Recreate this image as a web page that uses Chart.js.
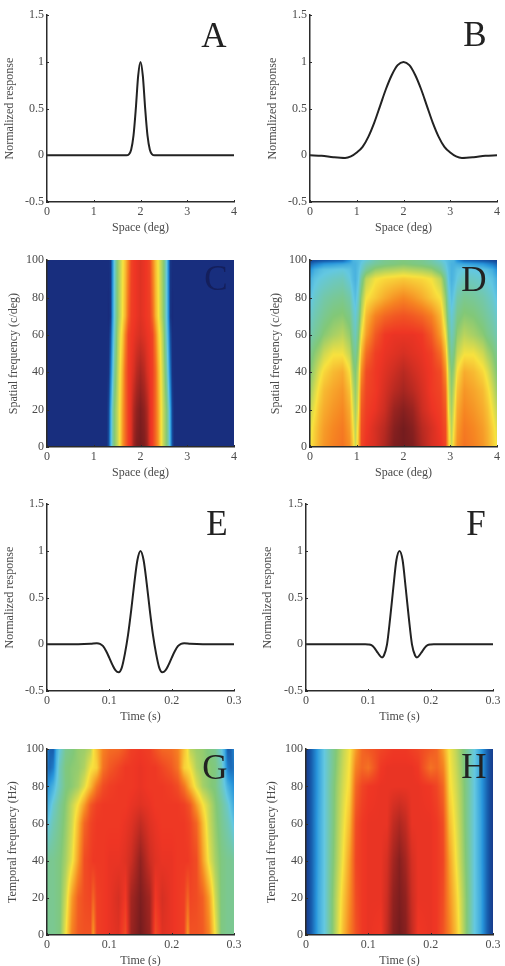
<!DOCTYPE html>
<html>
<head>
<meta charset="utf-8">
<title>Response profiles</title>
<script src="https://cdn.jsdelivr.net/npm/chart.js@4/dist/chart.umd.min.js"></script>
<style>
    html, body { margin: 0; padding: 0; background: #fff; }
    body { position: relative; width: 505px; height: 966px; overflow: hidden; }
    canvas { position: absolute; }
</style>
</head>
<body>
<script>
// Line panels
const spaceA = [0, 1.7, 1.75, 1.8, 1.85, 1.9, 1.95, 2, 2.05, 2.1, 2.15, 2.2, 2.25, 2.3, 4];
const responseA = [0, 0, 0.01, 0.06, 0.21, 0.5, 0.85, 1, 0.85, 0.5, 0.21, 0.06, 0.01, 0, 0];

const spaceB = [0, 0.25, 0.5, 0.75, 0.875, 1, 1.125, 1.25, 1.375, 1.5, 1.625, 1.75, 1.875, 2, 2.125, 2.25, 2.375, 2.5, 2.625, 2.75, 2.875, 3, 3.125, 3.25, 3.5, 3.75, 4];
const responseB = [0, -0.005, -0.02, -0.028, -0.012, 0.03, 0.09, 0.2, 0.35, 0.53, 0.71, 0.86, 0.965, 1, 0.965, 0.86, 0.71, 0.53, 0.35, 0.2, 0.09, 0.03, -0.012, -0.028, -0.02, -0.005, 0];

const timeE = [0, 0.05, 0.07, 0.08, 0.085, 0.09, 0.095, 0.1, 0.105, 0.11, 0.115, 0.12, 0.125, 0.13, 0.135, 0.14, 0.145, 0.15, 0.155, 0.16, 0.165, 0.17, 0.175, 0.18, 0.185, 0.19, 0.195, 0.2, 0.205, 0.21, 0.215, 0.22, 0.23, 0.25, 0.3];
const responseE = [0, 0, 0.005, 0.012, 0.005, -0.02, -0.075, -0.145, -0.22, -0.28, -0.3, -0.25, -0.1, 0.1, 0.36, 0.65, 0.9, 1, 0.9, 0.65, 0.36, 0.1, -0.1, -0.25, -0.3, -0.28, -0.22, -0.145, -0.075, -0.02, 0.005, 0.012, 0.005, 0, 0];

const timeF = [0, 0.095, 0.1, 0.105, 0.11, 0.115, 0.122, 0.125, 0.13, 0.135, 0.14, 0.145, 0.15, 0.155, 0.16, 0.165, 0.17, 0.175, 0.178, 0.185, 0.19, 0.195, 0.2, 0.205, 0.3];
const responseF = [0, 0, -0.002, -0.01, -0.04, -0.09, -0.14, -0.12, 0, 0.28, 0.6, 0.9, 1, 0.9, 0.6, 0.28, 0, -0.12, -0.14, -0.09, -0.04, -0.01, -0.002, 0, 0];

// Heat panels: level 0-100 per row (bottom up) and column
const columnsC = [0, 1.28, 1.32, 1.36, 1.4, 1.44, 1.5, 1.56, 1.62, 1.68, 1.74, 1.8, 1.86, 1.92, 2, 2.08, 2.14, 2.2, 2.26, 2.32, 2.38, 2.44, 2.5, 2.56, 2.6, 2.64, 2.68, 2.72, 4];
const rowsC = [0, 20, 40, 60, 70, 100];
const levelsC = [
    [2, 2, 10, 30, 43, 50, 56, 63, 73, 80, 86, 89, 96, 99, 100, 99, 96, 89, 86, 80, 73, 63, 56, 50, 43, 30, 10, 2, 2],
    [2, 2, 8, 28, 42, 50, 56, 63, 72, 80, 86, 89, 94, 97, 99, 97, 94, 89, 86, 80, 72, 63, 56, 50, 42, 28, 8, 2, 2],
    [2, 2, 3, 18, 34, 45, 54, 62, 70, 80, 86, 88, 90, 93, 95, 93, 90, 88, 86, 80, 70, 62, 54, 45, 34, 18, 3, 2, 2],
    [2, 2, 2, 10, 28, 40, 52, 60, 66, 76, 85, 87, 88, 89, 90, 89, 88, 87, 85, 76, 66, 60, 52, 40, 28, 10, 2, 2, 2],
    [2, 2, 1, 4, 24, 38, 50, 57, 63, 70, 80, 86, 87, 88, 89, 88, 87, 86, 80, 70, 63, 57, 50, 38, 24, 4, 1, 2, 2],
    [2, 2, 2, 4, 22, 38, 50, 56, 62, 68, 76, 85, 87, 88, 89, 88, 87, 85, 76, 68, 62, 56, 50, 38, 22, 4, 2, 2, 2]
];

const columnsD = [0, 0.1, 0.2, 0.3, 0.5, 0.7, 0.85, 0.92, 0.97, 1.03, 1.1, 1.2, 1.4, 1.6, 1.8, 2, 2.2, 2.4, 2.6, 2.8, 2.9, 2.97, 3.03, 3.08, 3.15, 3.3, 3.5, 3.7, 3.8, 3.9, 4];
const rowsD = [0, 10, 20, 30, 40, 50, 60, 70, 80, 90, 95, 98, 100];
const levelsD = [
    [62, 66, 70, 73, 76, 78, 74, 66, 58, 66, 85, 88, 90, 94, 99, 100, 99, 94, 90, 88, 85, 66, 58, 66, 74, 78, 76, 73, 70, 66, 62],
    [60, 65, 69, 72, 75, 77, 72, 63, 56, 64, 84, 87, 90, 93, 98, 100, 98, 93, 90, 87, 84, 64, 56, 63, 72, 77, 75, 72, 69, 65, 60],
    [57, 62, 67, 70, 73, 75, 70, 60, 54, 60, 82, 86, 88, 91, 96, 98, 96, 91, 88, 86, 82, 60, 54, 60, 70, 75, 73, 70, 67, 62, 57],
    [53, 59, 64, 68, 71, 73, 67, 57, 52, 58, 79, 85, 87, 90, 93, 95, 93, 90, 87, 85, 79, 58, 52, 57, 67, 73, 71, 68, 64, 59, 53],
    [50, 55, 60, 64, 68, 70, 63, 53, 50, 56, 74, 84, 87, 89, 91, 93, 91, 89, 87, 84, 74, 56, 50, 53, 63, 70, 68, 64, 60, 55, 50],
    [47, 51, 54, 58, 62, 62, 57, 49, 46, 52, 68, 79, 86, 88, 89, 90, 89, 88, 86, 79, 68, 52, 46, 49, 57, 62, 62, 58, 54, 51, 47],
    [43, 46, 48, 51, 54, 56, 52, 45, 42, 48, 62, 72, 82, 87, 88, 88, 88, 87, 82, 72, 62, 48, 42, 45, 52, 56, 54, 51, 48, 46, 43],
    [40, 43, 45, 47, 50, 51, 48, 42, 39, 44, 56, 68, 76, 80, 82, 83, 82, 80, 76, 68, 56, 44, 39, 42, 48, 51, 50, 47, 45, 43, 40],
    [36, 40, 42, 44, 46, 47, 44, 38, 35, 40, 52, 62, 66, 70, 73, 75, 73, 70, 66, 62, 52, 40, 35, 38, 44, 47, 46, 44, 42, 40, 36],
    [31, 36, 38, 39, 41, 42, 38, 34, 32, 36, 46, 56, 62, 64, 65, 66, 65, 64, 62, 56, 46, 36, 32, 34, 38, 42, 41, 39, 38, 36, 31],
    [24, 31, 34, 36, 37, 38, 36, 33, 32, 35, 40, 46, 52, 54, 55, 56, 55, 54, 52, 46, 40, 35, 32, 33, 36, 38, 37, 36, 34, 31, 24],
    [14, 19, 22, 25, 27, 29, 31, 32, 32, 34, 38, 42, 46, 48, 49, 50, 49, 48, 46, 42, 38, 34, 32, 32, 31, 29, 27, 25, 22, 19, 14],
    [6, 8, 9, 10, 12, 14, 24, 32, 33, 34, 36, 39, 44, 47, 48, 49, 48, 47, 44, 39, 36, 34, 33, 32, 24, 14, 12, 10, 9, 8, 6]
];

const columnsG = [0, 0.005, 0.01, 0.015, 0.02, 0.03, 0.04, 0.05, 0.06, 0.07, 0.074, 0.08, 0.09, 0.1, 0.115, 0.126, 0.135, 0.15, 0.165, 0.174, 0.185, 0.2, 0.21, 0.22, 0.226, 0.23, 0.24, 0.25, 0.26, 0.27, 0.28, 0.285, 0.29, 0.295, 0.3];
const rowsG = [0, 20, 40, 60, 70, 80, 90, 100];
const levelsG = [
    [47, 47, 47, 48, 49, 62, 76, 82, 83, 83, 72, 86, 87, 88, 89, 84, 96, 100, 96, 84, 89, 88, 87, 86, 72, 83, 83, 82, 76, 62, 49, 48, 47, 47, 47],
    [47, 47, 47, 48, 49, 58, 72, 81, 84, 85, 80, 86, 87, 88, 90, 87, 95, 99, 95, 87, 90, 88, 87, 86, 80, 85, 84, 81, 72, 58, 49, 48, 47, 47, 47],
    [46, 47, 47, 48, 49, 54, 61, 72, 84, 86, 87, 87, 87, 88, 88, 89, 91, 97, 91, 89, 88, 88, 87, 87, 87, 86, 84, 72, 61, 54, 49, 48, 47, 47, 46],
    [36, 40, 43, 45, 47, 52, 58, 68, 80, 85, 86, 87, 87, 87, 87, 88, 89, 92, 89, 88, 87, 87, 87, 87, 86, 85, 80, 68, 58, 52, 47, 45, 43, 40, 36],
    [30, 35, 40, 43, 46, 51, 57, 63, 72, 82, 84, 86, 87, 87, 87, 87, 88, 89, 88, 87, 87, 87, 87, 86, 84, 82, 72, 63, 57, 51, 46, 43, 40, 35, 30],
    [24, 28, 32, 38, 42, 49, 51, 54, 60, 68, 72, 78, 84, 86, 87, 87, 87, 88, 87, 87, 87, 86, 84, 78, 72, 68, 60, 54, 51, 49, 42, 38, 32, 28, 24],
    [18, 16, 20, 33, 42, 49, 51, 52, 55, 62, 63, 65, 78, 82, 85, 87, 87, 88, 87, 87, 85, 82, 78, 65, 63, 62, 55, 52, 51, 49, 42, 33, 20, 16, 18],
    [22, 14, 13, 30, 38, 47, 49, 52, 53, 56, 62, 67, 76, 79, 80, 83, 86, 87, 86, 83, 80, 79, 76, 67, 62, 56, 53, 52, 49, 47, 38, 30, 13, 14, 22]
];

const columnsH = [0, 0.005, 0.01, 0.02, 0.03, 0.04, 0.05, 0.06, 0.07, 0.08, 0.09, 0.1, 0.12, 0.13, 0.14, 0.15, 0.16, 0.17, 0.18, 0.2, 0.21, 0.22, 0.23, 0.24, 0.25, 0.26, 0.27, 0.28, 0.29, 0.295, 0.3];
const rowsH = [0, 20, 40, 60, 80, 90, 100];
const levelsH = [
    [5, 9, 15, 30, 38, 48, 58, 68, 76, 83, 87, 88, 87, 92, 98, 100, 98, 92, 87, 88, 87, 83, 76, 68, 58, 48, 38, 30, 15, 9, 5],
    [5, 9, 15, 30, 38, 48, 57, 66, 74, 84, 87, 88, 88, 91, 97, 99, 97, 91, 88, 88, 87, 84, 74, 66, 57, 48, 38, 30, 15, 9, 5],
    [5, 9, 15, 29, 38, 47, 55, 63, 72, 85, 87, 88, 88, 90, 95, 98, 95, 90, 88, 88, 87, 85, 72, 63, 55, 47, 38, 29, 15, 9, 5],
    [5, 9, 15, 29, 38, 46, 54, 61, 68, 84, 87, 88, 88, 88, 92, 94, 92, 88, 88, 88, 87, 84, 68, 61, 54, 46, 38, 29, 15, 9, 5],
    [5, 9, 15, 28, 38, 46, 53, 59, 64, 80, 85, 87, 88, 88, 88, 88, 88, 88, 88, 87, 85, 80, 64, 59, 53, 46, 38, 28, 15, 9, 5],
    [5, 9, 15, 28, 38, 45, 52, 58, 63, 76, 80, 78, 87, 88, 88, 88, 88, 88, 87, 78, 80, 76, 63, 58, 52, 45, 38, 28, 15, 9, 5],
    [6, 9, 15, 28, 38, 45, 51, 57, 62, 72, 80, 82, 85, 86, 87, 87, 87, 86, 85, 82, 80, 72, 62, 57, 51, 45, 38, 28, 15, 9, 6]
];

// Muted jet palette, evenly spaced over levels 0-100
const palette = [
    [24, 38, 118], [22, 90, 170], [40, 150, 220], [100, 200, 225], [130, 200, 120],
    [248, 226, 62], [246, 135, 34], [238, 53, 36], [116, 28, 30]
];

const spaceTicks = [0, 1, 2, 3, 4];
const timeTicks = [0, 0.1, 0.2, 0.3];
const responseTicks = [-0.5, 0, 0.5, 1, 1.5];
const frequencyTicks = [0, 20, 40, 60, 80, 100];

const INK = '#2b2b2b';
const LABEL = '#4a4a4a';
const SERIF = '"Liberation Serif", serif';

function levelColor(level) {
    const t = Math.max(0, Math.min(1, level / 100)) * (palette.length - 1);
    const i = Math.min(palette.length - 2, Math.floor(t));
    const f = t - i;
    return palette[i].map((c, k) => c + (palette[i + 1][k] - c) * f);
}

// Index of the grid interval holding v, plus the fraction across it
function locate(grid, v) {
    let i = 0;
    while (i < grid.length - 2 && v > grid[i + 1]) i++;
    const f = (v - grid[i]) / (grid[i + 1] - grid[i]);
    return [i, Math.max(0, Math.min(1, f))];
}

// Paints the level grid with smooth shading, looking each pixel up through the scales
const heatPlugin = {
    id: 'heat',
    beforeDatasetsDraw(chart, args, opts) {
        if (!opts.levels) return;
        const { left, top, right, bottom } = chart.chartArea;
        const w = Math.round(right - left);
        const h = Math.round(bottom - top);
        const off = document.createElement('canvas');
        off.width = w;
        off.height = h;
        const offCtx = off.getContext('2d');
        const img = offCtx.createImageData(w, h);
        for (let py = 0; py < h; py++) {
            const [r, fr] = locate(opts.rows, chart.scales.y.getValueForPixel(top + py + 0.5));
            for (let px = 0; px < w; px++) {
                const [c, fc] = locate(opts.columns, chart.scales.x.getValueForPixel(left + px + 0.5));
                const low = opts.levels[r][c] * (1 - fc) + opts.levels[r][c + 1] * fc;
                const high = opts.levels[r + 1][c] * (1 - fc) + opts.levels[r + 1][c + 1] * fc;
                const rgb = levelColor(low * (1 - fr) + high * fr);
                const at = (py * w + px) * 4;
                img.data[at] = rgb[0];
                img.data[at + 1] = rgb[1];
                img.data[at + 2] = rgb[2];
                img.data[at + 3] = 255;
            }
        }
        offCtx.putImageData(img, 0, 0);
        chart.ctx.drawImage(off, left, top);
    }
};

// Inward tick marks and the panel letter
const panelPlugin = {
    id: 'panel',
    afterDraw(chart, args, opts) {
        const ctx = chart.ctx;
        const { left, top, right, bottom } = chart.chartArea;
        ctx.save();
        ctx.strokeStyle = INK;
        ctx.lineWidth = 1;
        chart.scales.x.ticks.forEach(t => {
            const x = Math.round(chart.scales.x.getPixelForValue(t.value)) + 0.5;
            ctx.beginPath();
            ctx.moveTo(x, bottom);
            ctx.lineTo(x, bottom - 2);
            ctx.stroke();
        });
        chart.scales.y.ticks.forEach(t => {
            const y = Math.round(chart.scales.y.getPixelForValue(t.value)) + 0.5;
            ctx.beginPath();
            ctx.moveTo(left, y);
            ctx.lineTo(left + 2, y);
            ctx.stroke();
        });
        ctx.fillStyle = opts.color;
        ctx.font = '35px ' + SERIF;
        ctx.textAlign = 'center';
        ctx.textBaseline = 'alphabetic';
        ctx.fillText(opts.letter, right - opts.dx, top + opts.dy);
        ctx.restore();
    }
};

// One canvas per panel, sized so the plot area lands on plotLeft/plotTop with a 187px square
function createPanel(cfg) {
    const canvas = document.createElement('canvas');
    const canvasLeft = cfg.titleX - 6;
    const canvasTop = cfg.plotTop - 10;
    const plotW = 187;
    const plotH = cfg.plotH || 187;
    const width = cfg.plotLeft + plotW + 14 - canvasLeft;
    const height = 10 + plotH + 33;
    canvas.style.left = canvasLeft + 'px';
    canvas.style.top = canvasTop + 'px';
    canvas.style.width = width + 'px';
    canvas.style.height = height + 'px';
    canvas.width = width;
    canvas.height = height;
    document.body.appendChild(canvas);

    const tickFont = { family: SERIF, size: 12 };
    const axis = (min, max, ticks, title, fit) => ({
        type: 'linear',
        min: min,
        max: max,
        afterBuildTicks: scale => { scale.ticks = ticks.map(v => ({ value: v })); },
        afterFit: fit,
        title: { display: true, text: title, color: LABEL, font: tickFont, padding: 0 },
        grid: { display: false, drawTicks: false },
        border: { display: true, color: INK, width: 1.5, z: 1 },
        ticks: {
            color: LABEL,
            font: tickFont,
            padding: 3,
            autoSkip: false,
            maxRotation: 0,
            callback: v => String(v)
        }
    });

    return new Chart(canvas.getContext('2d'), {
        type: 'line',
        data: { datasets: [{
            data: cfg.points,
            borderColor: '#222',
            borderWidth: 2,
            pointRadius: 0,
            cubicInterpolationMode: 'monotone',
            showLine: !cfg.heat
        }] },
        options: {
            responsive: false,
            animation: false,
            events: [],
            layout: { padding: { top: 10, right: 14, left: 0, bottom: 0 } },
            scales: {
                x: axis(cfg.xMin, cfg.xMax, cfg.xTicks, cfg.xTitle, s => { s.height = 33; }),
                y: axis(cfg.yMin, cfg.yMax, cfg.yTicks, cfg.yTitle, s => { s.width = cfg.plotLeft - canvasLeft; })
            },
            plugins: {
                legend: { display: false },
                tooltip: { enabled: false },
                heat: cfg.heat || {},
                panel: { letter: cfg.letter, dx: cfg.dx, dy: cfg.dy, color: cfg.letterColor || '#222' }
            }
        },
        plugins: [heatPlugin, panelPlugin]
    });
}

function linePoints(xs, ys) {
    return xs.map((x, i) => ({ x: x, y: ys[i] }));
}

function gridPoints(columns, rows, levels) {
    const out = [];
    rows.forEach((y, r) => columns.forEach((x, c) => out.push({ x: x, y: y, v: levels[r][c] })));
    return out;
}

createPanel({ letter: 'A', dx: 20, dy: 32, titleX: 9, plotLeft: 47, plotTop: 15,
    points: linePoints(spaceA, responseA), xMin: 0, xMax: 4, xTicks: spaceTicks, xTitle: 'Space (deg)',
    yMin: -0.5, yMax: 1.5, yTicks: responseTicks, yTitle: 'Normalized response' });
createPanel({ letter: 'B', dx: 22, dy: 31, titleX: 272, plotLeft: 310, plotTop: 15,
    points: linePoints(spaceB, responseB), xMin: 0, xMax: 4, xTicks: spaceTicks, xTitle: 'Space (deg)',
    yMin: -0.5, yMax: 1.5, yTicks: responseTicks, yTitle: 'Normalized response' });
createPanel({ letter: 'C', dx: 18, dy: 30, letterColor: '#141f5c', titleX: 13, plotLeft: 47, plotTop: 260,
    points: gridPoints(columnsC, rowsC, levelsC), heat: { columns: columnsC, rows: rowsC, levels: levelsC },
    xMin: 0, xMax: 4, xTicks: spaceTicks, xTitle: 'Space (deg)',
    yMin: 0, yMax: 100, yTicks: frequencyTicks, yTitle: 'Spatial frequency (c/deg)' });
createPanel({ letter: 'D', dx: 23, dy: 31, titleX: 275, plotLeft: 310, plotTop: 260,
    points: gridPoints(columnsD, rowsD, levelsD), heat: { columns: columnsD, rows: rowsD, levels: levelsD },
    xMin: 0, xMax: 4, xTicks: spaceTicks, xTitle: 'Space (deg)',
    yMin: 0, yMax: 100, yTicks: frequencyTicks, yTitle: 'Spatial frequency (c/deg)' });
createPanel({ letter: 'E', dx: 17, dy: 31, titleX: 9, plotLeft: 47, plotTop: 504,
    points: linePoints(timeE, responseE), xMin: 0, xMax: 0.3, xTicks: timeTicks, xTitle: 'Time (s)',
    yMin: -0.5, yMax: 1.5, yTicks: responseTicks, yTitle: 'Normalized response' });
createPanel({ letter: 'F', dx: 17, dy: 31, titleX: 267, plotLeft: 306, plotTop: 504,
    points: linePoints(timeF, responseF), xMin: 0, xMax: 0.3, xTicks: timeTicks, xTitle: 'Time (s)',
    yMin: -0.5, yMax: 1.5, yTicks: responseTicks, yTitle: 'Normalized response' });
createPanel({ letter: 'G', dx: 19, dy: 30, titleX: 12, plotLeft: 47, plotTop: 749, plotH: 186,
    points: gridPoints(columnsG, rowsG, levelsG), heat: { columns: columnsG, rows: rowsG, levels: levelsG },
    xMin: 0, xMax: 0.3, xTicks: timeTicks, xTitle: 'Time (s)',
    yMin: 0, yMax: 100, yTicks: frequencyTicks, yTitle: 'Temporal frequency (Hz)' });
createPanel({ letter: 'H', dx: 19, dy: 29, titleX: 271, plotLeft: 306, plotTop: 749, plotH: 186,
    points: gridPoints(columnsH, rowsH, levelsH), heat: { columns: columnsH, rows: rowsH, levels: levelsH },
    xMin: 0, xMax: 0.3, xTicks: timeTicks, xTitle: 'Time (s)',
    yMin: 0, yMax: 100, yTicks: frequencyTicks, yTitle: 'Temporal frequency (Hz)' });
</script>
</body>
</html>
